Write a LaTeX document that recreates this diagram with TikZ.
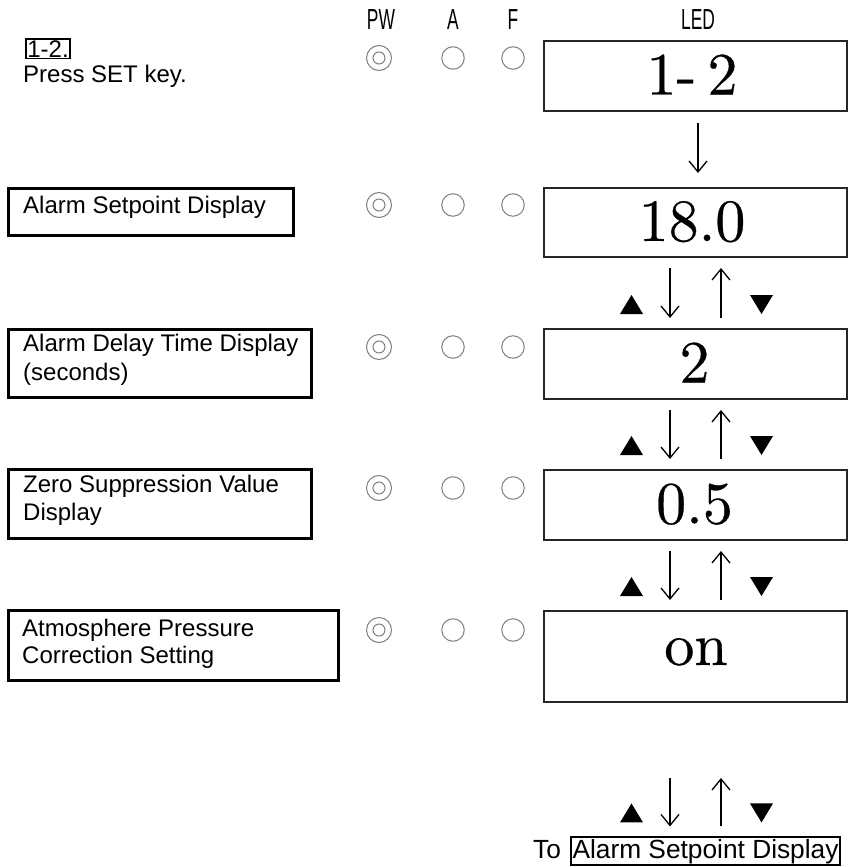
\documentclass[tikz,border=0pt]{standalone}
\usepackage{fontspec}
\usepackage{graphicx}
\usetikzlibrary{arrows.meta,calc}
\newfontfamily\arialf{Liberation Sans}
\newfontfamily\ledf{lmroman10-regular.otf}[FakeBold=0.4]
\newcommand\pairarrows[3]{%
  \draw[arr, shorten <=#3pt, shorten >=10pt] (#1.south -| xd) -- (#2.north -| xd);
  \draw[arr, shorten <=10pt, shorten >=#3pt] (#2.north -| xu) -- (#1.south -| xu);
  \fill ($(#2.north -| xtu)+(-11.5,-14)$) -- ++(23,0) -- ++(-11.5,-19) -- cycle;
  \fill ($(#2.north -| xtd)+(-11.5,-33)$) -- ++(23,0) -- ++(-11.5,19) -- cycle;
}
\begin{document}
\begin{tikzpicture}[x=1pt,y=-1pt,
  ledbox/.style={draw=black!85, line width=2pt, minimum width=303pt, anchor=north west, inner sep=0pt},
  lbox/.style={draw=black, line width=2.5pt, anchor=north west, inner sep=0pt},
  ltext/.style={anchor=base west, inner sep=0pt, font=\arialf\fontsize{24}{28}\selectfont},
  hdr/.style={anchor=center, inner sep=0pt, font=\arialf\fontsize{29}{29}\selectfont},
  ledtext/.style={anchor=base, inner sep=0pt, font=\ledf\fontsize{60}{64}\selectfont},
  lamp/.style={circle, draw=black!50, line width=1pt, inner sep=0pt},
  arr/.style={line width=1.3pt, -{Straight Barb[length=11pt,width=18pt,line width=1.3pt]}}]
\useasboundingbox[fill=white] (0,0) rectangle (848,867);
% column coordinates
\coordinate (xc) at (698,0);
\coordinate (xd) at (670,0);
\coordinate (xu) at (721,0);
\coordinate (xtu) at (631.5,0);
\coordinate (xtd) at (761.5,0);
% headers
\node[hdr] (hpw) at (381,20) {\scalebox{0.6}[1]{PW}};
\node[hdr] (ha) at (453,20) {\scalebox{0.6}[1]{A}};
\node[hdr] (hf) at (513,20) {\scalebox{0.6}[1]{F}};
\node[hdr] (hled) at (698,20) {\scalebox{0.6}[1]{LED}};
% top-left
\node[ltext, draw=black, line width=1.8pt, inner sep=1.5pt] (lbl) at (25,57) {1-2.};
\node[ltext] (press) at (23,82) {Press SET key.};
% LED boxes
\node[ledbox, minimum height=70pt] (led1) at (543,40) {};
\node[ledbox, minimum height=69pt] (led2) at (543,187) {};
\node[ledbox, minimum height=70pt] (led3) at (543,328) {};
\node[ledbox, minimum height=70pt] (led4) at (543,469) {};
\node[ledbox, minimum height=91pt] (led5) at (543,610) {};
\node[ledtext] (t1) at (692,94.5) {1-\kern11pt2};
\node[ledtext] (t2) at (692,241) {18.0};
\node[ledtext] (t3) at (694.5,382.5) {2};
\node[ledtext] (t4) at (694.5,523.5) {0.5};
\node[ledtext] (t5) at (696,665) {on};
% lamps
\foreach \r/\y in {1/58,2/205,3/347,4/488,5/630} {
  \node[lamp, minimum size=25pt] (pw\r) at (379,\y) {};
  \node[lamp, minimum size=12pt] (pwi\r) at (379,\y) {};
  \node[lamp, minimum size=22.5pt] (a\r) at (453,\y) {};
  \node[lamp, minimum size=22.5pt] (f\r) at (513,\y) {};
}
% left description boxes
\node[lbox, minimum width=285pt, minimum height=47pt] (b2) at (7,187) {};
\node[ltext] (s2) at (23,213) {Alarm Setpoint Display};
\node[lbox, minimum width=303pt, minimum height=68pt] (b3) at (7,328) {};
\node[ltext] (s3a) at (23,351) {Alarm Delay Time Display};
\node[ltext] (s3b) at (23,380) {(seconds)};
\node[lbox, minimum width=303pt, minimum height=69pt] (b4) at (7,468) {};
\node[ltext] (s4a) at (23,492) {Zero Suppression Value};
\node[ltext] (s4b) at (23,520) {Display};
\node[lbox, minimum width=330pt, minimum height=70pt] (b5) at (7,609) {};
\node[ltext] (s5a) at (22,636) {Atmosphere Pressure};
\node[ltext] (s5b) at (22,663) {Correction Setting};
% bottom target
\node[ltext, font=\arialf\fontsize{26.3}{28}\selectfont] (to) at (533,858) {To};
\node[ltext, font=\arialf\fontsize{26.3}{28}\selectfont, draw=black, line width=2pt, inner sep=1.5pt] (tobox) at (570,858) {Alarm Setpoint Display};
% arrows
\draw[arr, shorten <=11pt, shorten >=14pt] (led1.south -| xc) -- (led2.north -| xc);
\pairarrows{led2}{led3}{10}
\pairarrows{led3}{led4}{10}
\pairarrows{led4}{led5}{10}
\pairarrows{led5}{tobox}{75}
\end{tikzpicture}
\end{document}
